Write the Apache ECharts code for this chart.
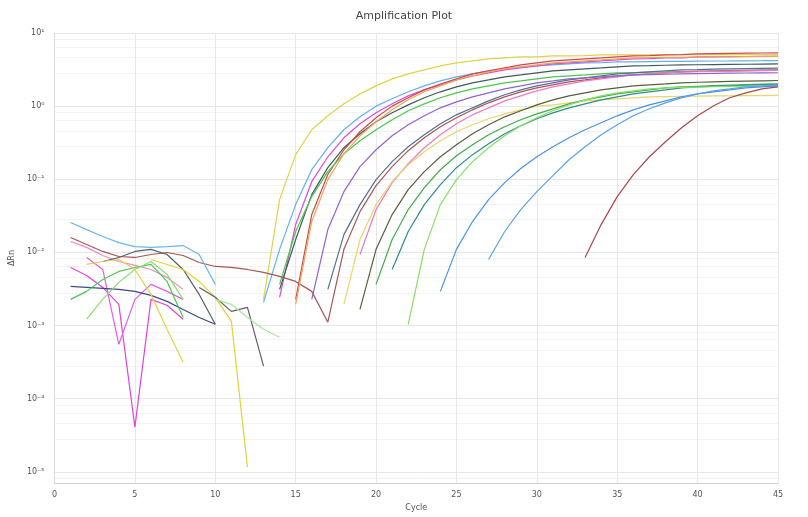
<!DOCTYPE html>
<html><head><meta charset="utf-8">
<script src="https://cdn.jsdelivr.net/npm/echarts@6/dist/echarts.min.js"></script>
<style>html,body{margin:0;padding:0;background:#fff}#c{width:808px;height:517px}</style>
</head><body><div id="c"></div><script>
// ---- axis data ----
const xTicks = [0,5,10,15,20,25,30,35,40,45];
const yMin = 7e-6, yMax = 10;

// ---- start cycle of each well's drawn segment ----
const startCycle = {
  ampYellowA:13, ampBlueA:13, ampMagenta:14, ampSlate:14, ampRed:15, ampGreenA:14,
  ampGrayBlue:17, brownWell:1, ampPink:19, ampYellowB:18, ampOlive:19, ampGreenB:20,
  ampTeal:21, ampLightGreen:22, ampBlueB:24, ampBlueC:27, ampBrownB:33, ampPurple:16, ampOrange:15,
  nzBlue:1, nzPink:1, nzMagentaA:1, nzMagentaB:2, nzNavy:1, nzGray:3, nzGreenA:1, nzGreenB:2,
  nzYellowA:2, nzYellowB:6, nzGrayB:9, nzLightGreen:10
};

// ---- ΔRn values per cycle ----
const ampYellowA = [0.00228,0.0527,0.217,0.475,0.737,1.075,1.47,1.89,2.36,2.76,3.13,3.55,3.90,4.15,4.42,4.56,4.71,4.73,4.86,4.88,4.90,5.01,5.02,5.03,5.03,5.04,5.04,5.05,5.05,5.06,5.06,5.07,5.07];
const ampBlueA = [0.00207,0.0110,0.0450,0.135,0.270,0.475,0.714,1.00,1.26,1.57,1.89,2.21,2.51,2.76,3.03,3.23,3.44,3.55,3.66,3.78,3.90,3.92,4.02,4.04,4.06,4.08,4.10,4.12,4.14,4.15,4.17,4.18,4.20];
const ampMagenta = [0.00243,0.0240,0.0927,0.203,0.369,0.573,0.810,1.075,1.38,1.67,1.95,2.28,2.59,2.85,3.13,3.33,3.55,3.78,3.90,4.02,4.15,4.28,4.42,4.45,4.56,4.58,4.71,4.73,4.75,4.77,4.79,4.80];
const ampSlate = [0.00312,0.0150,0.0617,0.144,0.270,0.419,0.611,0.810,1.04,1.30,1.57,1.83,2.08,2.28,2.51,2.67,2.85,3.03,3.13,3.23,3.33,3.44,3.55,3.58,3.62,3.66,3.68,3.70,3.72,3.74,3.76,3.78];
const ampRed = [0.00228,0.0329,0.116,0.253,0.446,0.692,1.00,1.30,1.67,2.01,2.36,2.76,3.03,3.33,3.66,3.90,4.15,4.28,4.42,4.56,4.71,4.86,4.90,5.01,5.05,5.17,5.22,5.26,5.30,5.33,5.36];
const ampGreenA = [0.00365,0.0193,0.0579,0.127,0.223,0.336,0.475,0.650,0.863,1.075,1.30,1.52,1.72,1.89,2.08,2.21,2.36,2.51,2.59,2.67,2.76,2.85,2.88,2.92,2.94,2.97,3.00,3.02,3.04,3.06,3.08,3.10];
const ampGrayBlue = [0.00312,0.0175,0.0450,0.0988,0.174,0.278,0.406,0.573,0.760,0.948,1.18,1.43,1.67,1.89,2.08,2.28,2.43,2.59,2.76,2.85,2.94,3.03,3.13,3.16,3.20,3.23,3.26,3.28,3.30];
const brownWell = [0.0160,0.0128,0.0103,0.00879,0.00852,0.00936,0.00997,0.00907,0.00728,0.00642,0.00622,0.00584,0.00532,0.00469,0.00401,0.00293,0.00111,0.0110,0.0361,0.0818,0.149,0.246,0.369,0.522,0.692,0.890,1.11,1.34,1.57,1.78,1.95,2.15,2.28,2.43,2.59,2.67,2.76,2.85,2.94,2.98,3.02,3.05,3.08,3.10,3.12];
const ampPink = [0.00936,0.0385,0.0899,0.163,0.270,0.406,0.573,0.760,0.948,1.18,1.38,1.62,1.83,2.01,2.21,2.36,2.51,2.67,2.76,2.85,2.94,2.96,2.99,3.01,3.03,3.05,3.07];
const ampYellowB = [0.00195,0.0150,0.0450,0.0927,0.158,0.238,0.336,0.446,0.556,0.671,0.785,0.890,1.00,1.04,1.11,1.18,1.22,1.26,1.30,1.34,1.35,1.36,1.37,1.38,1.38,1.39,1.39,1.40];
const ampOlive = [0.00166,0.0110,0.0329,0.0721,0.127,0.203,0.296,0.419,0.556,0.714,0.863,1.04,1.22,1.38,1.52,1.67,1.78,1.89,1.95,2.01,2.08,2.12,2.15,2.18,2.20,2.22,2.24];
const ampGreenB = [0.00365,0.0150,0.0385,0.0768,0.135,0.210,0.296,0.406,0.522,0.650,0.785,0.919,1.075,1.22,1.34,1.47,1.57,1.67,1.78,1.83,1.87,1.91,1.94,1.97,2.00,2.02];
const ampTeal = [0.00584,0.0193,0.0450,0.0844,0.144,0.217,0.306,0.419,0.538,0.671,0.810,0.948,1.075,1.22,1.34,1.47,1.57,1.67,1.78,1.83,1.87,1.90,1.93,1.95,1.97];
const ampLightGreen = [0.00104,0.0110,0.0450,0.0988,0.174,0.270,0.393,0.538,0.692,0.863,1.04,1.22,1.38,1.52,1.62,1.72,1.78,1.80,1.82,1.84,1.86,1.87,1.88,1.89];
const ampBlueB = [0.00293,0.0110,0.0264,0.0527,0.0899,0.140,0.203,0.278,0.369,0.475,0.592,0.737,0.890,1.04,1.18,1.34,1.47,1.57,1.67,1.78,1.83,1.89];
const ampBlueC = [0.00800,0.0193,0.0385,0.0677,0.112,0.185,0.278,0.406,0.556,0.737,0.919,1.11,1.30,1.47,1.62,1.72,1.83,1.89,1.95];
const ampBrownB = [0.00852,0.0240,0.0579,0.116,0.203,0.326,0.506,0.737,1.01,1.30,1.52,1.72,1.83];
const ampPurple = [0.00228,0.0205,0.0677,0.149,0.253,0.393,0.556,0.737,0.948,1.145,1.34,1.52,1.72,1.89,2.08,2.21,2.36,2.43,2.51,2.59,2.67,2.70,2.73,2.76,2.78,2.80,2.82,2.84,2.85,2.86];
const ampOrange = [0.00195,0.0264,0.0988,0.223,0.393,0.611,0.890,1.22,1.57,1.89,2.28,2.59,2.94,3.23,3.44,3.66,3.90,4.02,4.15,4.28,4.42,4.56,4.60,4.63,4.66,4.69,4.71,4.73,4.75,4.77,4.78];
const nzBlue = [0.0256,0.0205,0.0165,0.0136,0.0120,0.0117,0.0120,0.0124,0.00936,0.00365];
const nzPink = [0.0141,0.0117,0.00907,0.00751,0.00663,0.00584,0.00455,0.00312];
const nzMagentaA = [0.00622,0.00484,0.00332,0.00195,0.0000408,0.00228,0.00189,0.00122];
const nzMagentaB = [0.00852,0.00584,0.000554,0.00228,0.00365,0.00293,0.00228];
const nzNavy = [0.00343,0.00332,0.00322,0.00312,0.00293,0.00258,0.00214,0.00166,0.00129,0.00104];
const nzGray = [0.00751,0.00852,0.0103,0.0110,0.00936,0.00584,0.00266,0.00104];
const nzGreenA = [0.00228,0.00293,0.00427,0.00549,0.00622,0.00684,0.00401,0.00129];
const nzGreenB = [0.00122,0.00228,0.00389,0.00584,0.00751,0.00500,0.00228];
const nzYellowA = [0.00684,0.00751,0.00800,0.00584,0.00266,0.000888,0.000315];
const nzYellowB = [0.00800,0.00684,0.00584,0.00401,0.00243,0.00114,0.0000116];
const nzGrayB = [0.00332,0.00243,0.00156,0.00177,0.000278];
const nzLightGreen = [0.00228,0.00195,0.00129,0.000888,0.000690];

// ---- line colours (style only) ----
const lineColor = {
  ampYellowA:'#e2d14a', ampBlueA:'#62b2ea', ampMagenta:'#d94ad9', ampSlate:'#3f5a5c', ampRed:'#cc4a4a', ampGreenA:'#4cc64c',
  ampGrayBlue:'#55708f', brownWell:'#a65656', ampPink:'#ee78c4', ampYellowB:'#e9d56a', ampOlive:'#56603f', ampGreenB:'#3fae4a',
  ampTeal:'#2f8c8a', ampLightGreen:'#86e064', ampBlueB:'#4b92e0', ampBlueC:'#5aa2ea', ampBrownB:'#a64a4a', ampPurple:'#9263cf', ampOrange:'#f0a458',
  nzBlue:'#6ab6ee', nzPink:'#f08ac8', nzMagentaA:'#dd44dd', nzMagentaB:'#e25ee0', nzNavy:'#3a4a8a', nzGray:'#55606a', nzGreenA:'#4cc84c', nzGreenB:'#8ade6a',
  nzYellowA:'#e6d04c', nzYellowB:'#e2d232', nzGrayB:'#6a5a70', nzLightGreen:'#a6e8a0'
};

const wells = {ampYellowA, ampBlueA, ampMagenta, ampSlate, ampRed, ampGreenA, ampGrayBlue, brownWell, ampPink, ampYellowB, ampOlive, ampGreenB, ampTeal, ampLightGreen, ampBlueB, ampBlueC, ampBrownB, ampPurple, ampOrange, nzBlue, nzPink, nzMagentaA, nzMagentaB, nzNavy, nzGray, nzGreenA, nzGreenB, nzYellowA, nzYellowB, nzGrayB, nzLightGreen};

const sup = {'-':'⁻','0':'⁰','1':'¹','2':'²','3':'³','4':'⁴','5':'⁵','6':'⁶','7':'⁷','8':'⁸','9':'⁹'};
function powLabel(v){
  const l = Math.log10(v), e = Math.round(l);
  if (Math.abs(l - e) > 1e-6) return '';
  return '10' + String(e).split('').map(c => sup[c]).join('');
}

const series = Object.keys(wells).map(k => ({
  name: k, type: 'line', showSymbol: false, silent: true,
  data: wells[k].map((v, i) => [startCycle[k] + i, v]),
  lineStyle: { width: 1.2, color: lineColor[k] },
  itemStyle: { color: lineColor[k] }
}));

const chart = echarts.init(document.getElementById('c'), null, {renderer: 'canvas'});
chart.setOption({
  animation: false,
  backgroundColor: '#ffffff',
  title: { text: 'Amplification Plot', left: 'center', top: 6,
    textStyle: { fontSize: 11, fontWeight: 'normal', color: '#444', fontFamily: 'DejaVu Sans' } },
  grid: { left: 48, right: 30, top: 33, bottom: 33 },
  xAxis: {
    type: 'value', min: 0, max: 45, interval: 5,
    name: 'Cycle', nameLocation: 'middle', nameGap: 20,
    nameTextStyle: { fontSize: 8, color: '#555', fontFamily: 'DejaVu Sans' },
    axisLine: { lineStyle: { color: '#cfcfcf' } },
    axisTick: { show: false },
    axisLabel: { fontSize: 8, color: '#555', margin: 8, fontFamily: 'DejaVu Sans',
      formatter: v => xTicks.includes(v) ? String(v) : '' },
    splitLine: { show: true, lineStyle: { color: '#e8e8e8', width: 1 } }
  },
  yAxis: {
    type: 'log', logBase: 10, min: yMin, max: yMax,
    name: 'ΔRn', nameLocation: 'middle', nameGap: 30, nameRotate: 90,
    nameTextStyle: { fontSize: 8, color: '#555', fontFamily: 'DejaVu Sans' },
    axisLine: { show: true, lineStyle: { color: '#dcdcdc' } },
    axisTick: { show: false },
    axisLabel: { fontSize: 8, color: '#555', margin: 10, fontFamily: 'DejaVu Sans', formatter: powLabel },
    splitLine: { show: true, lineStyle: { color: '#e6e6e6', width: 1 } },
    minorTick: { show: false, splitNumber: 5 },
    minorSplitLine: { show: true, lineStyle: { color: '#f3f3f3', width: 1 } }
  },
  series
});
</script></body></html>
